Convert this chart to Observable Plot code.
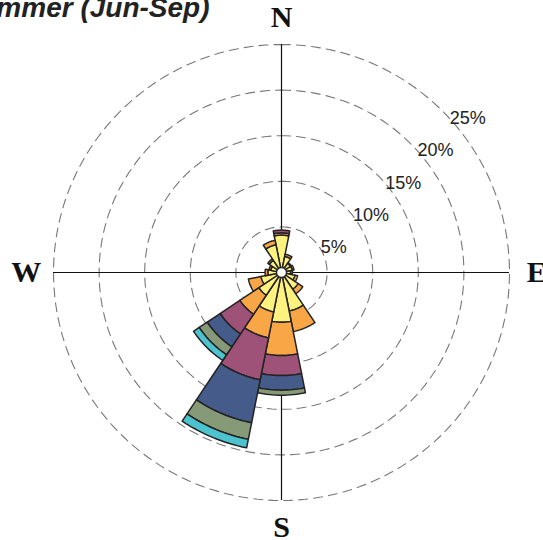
<!DOCTYPE html>
<html>
<head>
<meta charset="utf-8">
<script src="https://cdn.jsdelivr.net/npm/d3@7"></script>
<script src="https://cdn.jsdelivr.net/npm/@observablehq/plot@0.6"></script>
<style>
  html, body { margin: 0; padding: 0; background: #fff; }
  #chart { width: 543px; height: 540px; overflow: hidden; }
</style>
</head>
<body>
<div id="chart"></div>
<script>
// ---- data (percent of time, per wind direction and speed bin) ----
const title = "Summer (Jun-Sep)";
const directions = ["N","NNE","NE","ENE","E","ESE","SE","SSE","S","SSW","SW","WSW","W","WNW","NW","NNW"];
const speedBins = ["0-2 m/s","2-4 m/s","4-6 m/s","6-8 m/s","8-10 m/s",">10 m/s"];
const binColors = ["#fff27f","#f9a647","#9e5277","#455b8a","#869a78","#4dc3cf"];
const bin1 = [4.1, 1.8, 1.2, 1.2, 1.0, 1.5, 2.2, 4.3, 5.45, 4.4, 3.0, 2.3, 1.5, 1.2, 1.6, 3.1];
const bin2 = [0.25,0.25,0.1, 0.2, 0.2, 0.3, 0.6, 2.3, 3.65, 2.9, 2.5, 1.4, 0.3, 0.2, 0.2, 0.5];
const bin3 = [0.3, 0,   0,   0,   0,   0,   0,   0,   2.2,  4.7, 2.6, 0,   0,   0,   0,   0];
const bin4 = [0,   0,   0,   0,   0,   0,   0,   0,   1.6,  4.8, 1.7, 0,   0,   0,   0,   0];
const bin5 = [0,   0,   0,   0,   0,   0,   0,   0,   0.55, 1.85,1.05,0,   0,   0,   0,   0];
const bin6 = [0,   0,   0,   0,   0,   0,   0,   0,   0,    0.95,0.75,0,   0,   0,   0,   0];
const ringValues = [5, 10, 15, 20, 25];
const compass = ["N", "E", "S", "W"];

// ---- build polar polygons (data space: percent) ----
const bins = [bin1, bin2, bin3, bin4, bin5, bin6];
const sector = 360 / directions.length;
const rad = Math.PI / 180;
const pt = (r, deg) => ({x: r * Math.sin(deg * rad), y: r * Math.cos(deg * rad)});

const wedges = [];
directions.forEach((dir, i) => {
  const a = i * sector;
  const a0 = a - sector / 2, a1 = a + sector / 2;
  let r0 = 0;
  bins.forEach((b, j) => {
    const v = b[i];
    if (!v) return;
    const r1 = r0 + v;
    const id = dir + "-" + j;
    const n = 16;
    for (let s = 0; s <= n; s++) wedges.push({id, bin: speedBins[j], ...pt(r1, a0 + (a1 - a0) * s / n)});
    if (r0 === 0) wedges.push({id, bin: speedBins[j], x: 0, y: 0});
    else for (let s = n; s >= 0; s--) wedges.push({id, bin: speedBins[j], ...pt(r0, a0 + (a1 - a0) * s / n)});
    r0 = r1;
  });
});

const rings = [];
ringValues.forEach(r => {
  for (let s = 0; s < 360; s += 2) rings.push({r, ...pt(r, s)});
});

const k = 9.12; // px per percent
const cx = 281, cy = 272, W = 543, H = 540;
const maxR = ringValues[ringValues.length - 1];
const labelR = 28;
const compassPos = compass.map((t, i) => ({t, ...pt(labelR, i * 90)}));
const ringLabels = ringValues.map(r => ({t: r + "%", ...pt(r, 45)}));

const chart = Plot.plot({
  width: W,
  height: H,
  margin: 0,
  x: {domain: [-cx / k, (W - cx) / k], range: [0, W], axis: null},
  y: {domain: [-(H - cy) / k, cy / k], range: [H, 0], axis: null},
  color: {domain: speedBins, range: binColors},
  style: {background: "white"},
  marks: [
    Plot.line(rings, {x: "x", y: "y", z: "r", curve: "linear-closed", stroke: "#777", strokeWidth: 1.1, strokeDasharray: "9,6"}),
    Plot.ruleX([0], {y1: -maxR, y2: maxR, stroke: "#111", strokeWidth: 1.2}),
    Plot.ruleY([0], {x1: -maxR, x2: maxR, stroke: "#111", strokeWidth: 1.2}),
    Plot.line(wedges, {x: "x", y: "y", z: "id", fill: "bin", stroke: "#222", strokeWidth: 1.5, curve: "linear-closed", strokeLinejoin: "round"}),
    Plot.dot([{x: 0, y: 0}], {x: "x", y: "y", r: 5, fill: "white", stroke: "#222", strokeWidth: 1.3}),
    Plot.text(ringLabels, {x: "x", y: "y", text: "t", textAnchor: "start", dx: 7, dy: 7, fontSize: 18, fill: "#222", fontFamily: "Liberation Sans, Arial, sans-serif"}),
    Plot.text(compassPos, {x: "x", y: "y", text: "t", fontSize: 30, fontWeight: "bold", fill: "#111", fontFamily: "Liberation Serif, Times New Roman, serif"}),
    Plot.text([title], {frameAnchor: "top-left", textAnchor: "end", dx: 209, dy: -3, fontSize: 28, fontWeight: "bold", fontStyle: "italic", fill: "#222", fontFamily: "Liberation Sans, Arial, sans-serif"})
  ]
});
document.getElementById("chart").appendChild(chart);
</script>
</body>
</html>
